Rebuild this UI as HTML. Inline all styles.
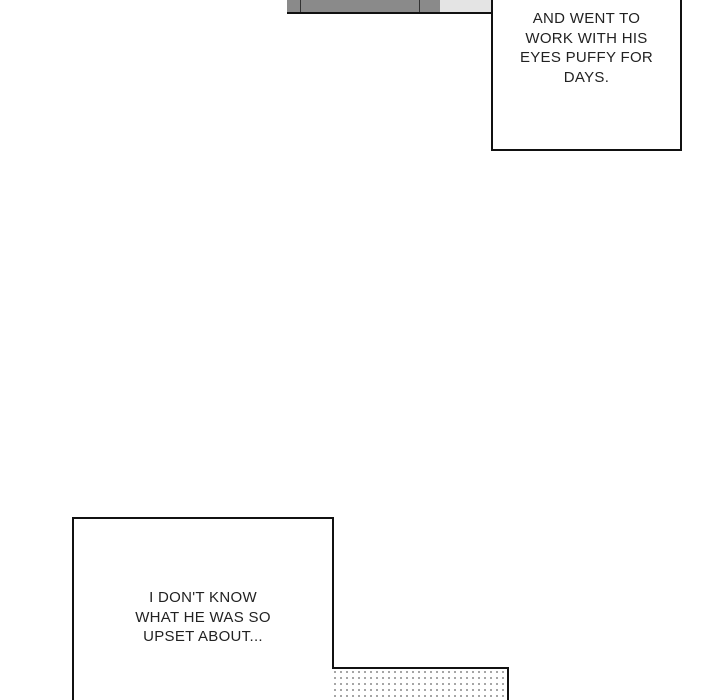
<!DOCTYPE html>
<html><head><meta charset="utf-8"><style>
html,body{margin:0;padding:0;background:#fff;width:720px;height:700px;overflow:hidden;}
body{position:relative;font-family:"Liberation Sans",sans-serif;}
.box{position:absolute;border:2px solid #111;background:#fff;box-sizing:border-box;}
.t{position:absolute;text-align:center;font-size:15px;line-height:19.5px;color:#222;letter-spacing:0.3px;}
</style></head><body>
<div style="position:absolute;left:287px;top:0;width:204px;height:14px;background:#8a8a8a;border-bottom:2px solid #111;box-sizing:border-box;"></div>
<div style="position:absolute;left:440px;top:0;width:51px;height:12px;background:#e4e4e4;"></div>
<div style="position:absolute;left:300px;top:0;width:120px;height:12px;border-right:1px solid #333;border-left:1px solid #333;box-sizing:border-box;"></div>
<div class="box" style="left:491px;top:0;width:191px;height:151px;border-top:none;"></div>
<div class="t" style="left:491px;top:9px;width:191px;">AND WENT TO<br>WORK WITH HIS<br>EYES PUFFY FOR<br>DAYS.</div>
<div class="box" style="left:72px;top:517px;width:262px;height:183px;border-bottom:none;"></div>
<div class="t" style="left:72px;top:588px;width:262px;">I DON'T KNOW<br>WHAT HE WAS SO<br>UPSET ABOUT...</div>
<div class="box" style="left:332px;top:667px;width:177px;height:33px;border-left:none;border-bottom:none;background-color:#fff;background-image:radial-gradient(#888 0.8px,transparent 1px);background-size:6px 6px;"></div>
</body></html>
